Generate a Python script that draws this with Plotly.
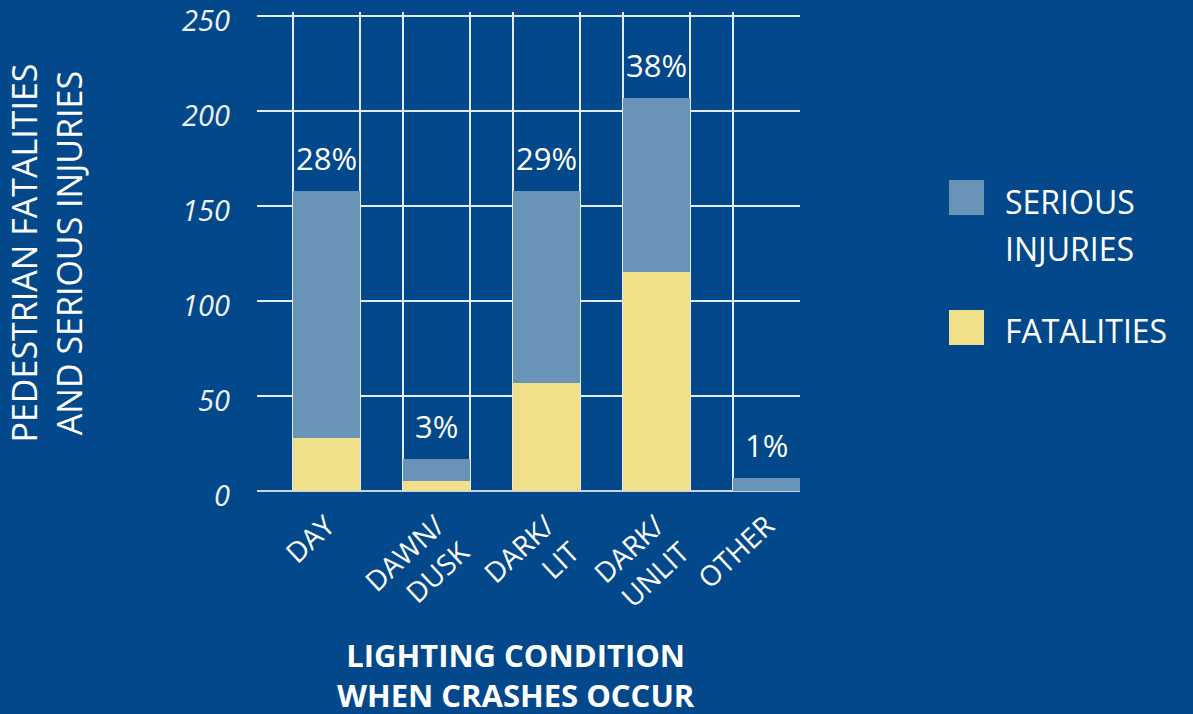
import plotly.graph_objects as go

categories = ["DAY", "DAWN/<br>DUSK", "DARK/<br>LIT", "DARK/<br>UNLIT", "OTHER"]
fatalities = [28, 5.5, 57, 115, 0]
serious_injuries = [130, 11.5, 101, 92, 7]
pct_labels = ["28%", "3%", "29%", "38%", "1%"]
y_ticks = [0, 50, 100, 150, 200, 250]

BG = "#03488a"
BLUE = "#6a93b8"
YELLOW = "#f0e08a"
WHITE = "#ffffff"
FONT = "Open Sans"

positions = list(range(len(categories)))
bar_w = 0.61
edges = sorted(set([p - bar_w / 2 for p in positions] + [p + bar_w / 2 for p in positions]))
totals = [f + s for f, s in zip(fatalities, serious_injuries)]

fig = go.Figure()
fig.add_trace(go.Bar(x=positions, y=fatalities, width=bar_w, marker=dict(color=YELLOW, line=dict(width=0)),
                     name="FATALITIES", showlegend=False, hoverinfo="skip"))
fig.add_trace(go.Bar(x=positions, y=serious_injuries, width=bar_w, marker=dict(color=BLUE, line=dict(width=0)),
                     name="SERIOUS INJURIES", showlegend=False, hoverinfo="skip"))

for p, t, lab in zip(positions, totals, pct_labels):
    fig.add_annotation(x=p, y=t, text=lab, showarrow=False, yanchor="bottom", yshift=10,
                       font=dict(family=FONT, size=31, color=WHITE))

# custom legend (paper coords; plot area spans y 12..491 px)
fig.add_shape(type="rect", xref="paper", yref="paper", x0=1.2744, x1=1.3389, y0=0.5762, y1=0.6493,
              fillcolor=BLUE, line=dict(width=0))
fig.add_shape(type="rect", xref="paper", yref="paper", x0=1.2744, x1=1.3389, y0=0.3048, y1=0.3779,
              fillcolor=YELLOW, line=dict(width=0))
for txt, yy in [("SERIOUS", 0.6054), ("INJURIES", 0.5073), ("FATALITIES", 0.3361)]:
    fig.add_annotation(xref="paper", yref="paper", x=1.3738, y=yy, xanchor="left", yanchor="middle",
                       text=txt, showarrow=False, font=dict(family=FONT, size=32, color=WHITE))

# axis titles
fig.add_annotation(xref="paper", yref="paper", x=-0.3877, y=0.4968, textangle=-90, showarrow=False,
                   xanchor="center", yanchor="middle",
                   text="PEDESTRIAN FATALITIES<br>AND SERIOUS INJURIES",
                   font=dict(family=FONT, size=34, color=WHITE))
fig.add_annotation(xref="paper", yref="paper", x=0.477, y=-0.295, showarrow=False,
                   xanchor="center", yanchor="top",
                   text="<b>LIGHTING CONDITION<br>WHEN CRASHES OCCUR</b>",
                   font=dict(family=FONT, size=31, color=WHITE))

fig.update_layout(
    width=1193, height=714,
    paper_bgcolor=BG, plot_bgcolor=BG,
    barmode="stack",
    margin=dict(l=257, r=393, t=12, b=223),
    showlegend=False,
    xaxis=dict(
        range=[-0.636, 4.305], tickmode="array", tickvals=positions, ticktext=categories,
        tickangle=-43, showgrid=False, zeroline=False, showline=False, ticks="",
        ticklabelstandoff=12,
        tickfont=dict(family=FONT, size=28, color=WHITE),
        minor=dict(tickmode="array", tickvals=edges, showgrid=True, gridcolor="#e6ebf2", gridwidth=1.5, ticks=""),
    ),
    yaxis=dict(
        range=[0, 252], tickmode="array", tickvals=y_ticks, ticktext=[str(v) for v in y_ticks],
        showgrid=True, gridcolor="#e6ebf2", gridwidth=1.5,
        zeroline=True, zerolinecolor="#c9d5e4", zerolinewidth=2,
        showline=False, ticks="", ticklabelstandoff=26, ticklabeloverflow="allow",
        ticklabelshift=5, automargin=False,
        tickfont=dict(family=FONT, size=29, color="#eef2f7", style="italic"),
    ),
)

fig.write_html("out.html")
